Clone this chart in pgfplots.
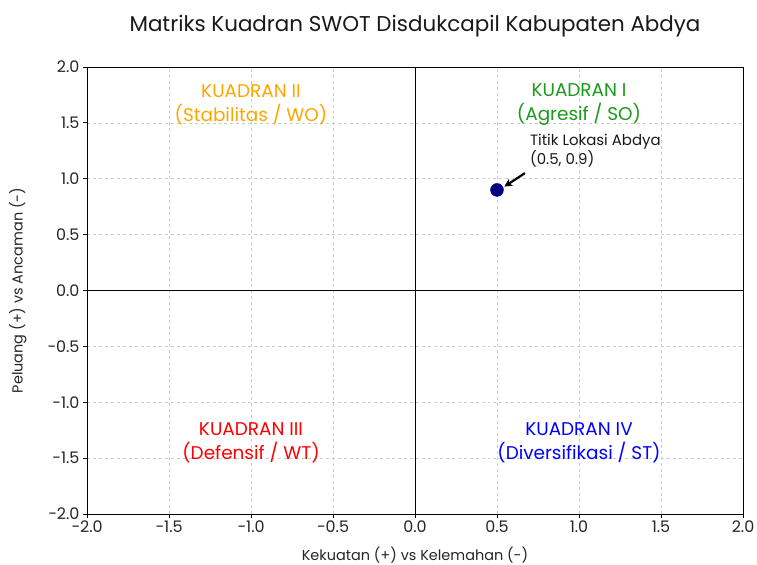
\documentclass[border=0pt]{standalone}
\usepackage{fontspec}
\setmainfont{Poppins}
\usepackage{pgfplots}
\pgfplotsset{compat=1.18}
\usetikzlibrary{arrows.meta}
\definecolor{qgreen}{HTML}{1A9A1A}
\definecolor{qorange}{HTML}{FFA500}
\definecolor{qred}{HTML}{FF0000}
\definecolor{qblue}{HTML}{0000FF}
\definecolor{navy}{HTML}{000080}
\begin{document}
\begin{tikzpicture}[x=1bp,y=1bp]
\path[use as bounding box] (0,0) rectangle (757,565);
\begin{axis}[
  at={(87bp,51bp)}, anchor=south west,
  scale only axis, width=656bp, height=447bp,
  xmin=-2, xmax=2, ymin=-2, ymax=2,
  xtick={-2,-1.5,...,2}, ytick={-2,-1.5,...,2},
  xticklabels={−2.0,−1.5,−1.0,−0.5,0.0,0.5,1.0,1.5,2.0},
  yticklabels={−2.0,−1.5,−1.0,−0.5,0.0,0.5,1.0,1.5,2.0},
  tick label style={font=\fontsize{16}{18}\selectfont, text=black!85},
  xticklabel style={yshift=1bp},
  tick align=outside, major tick length=4bp,
  xtick pos=bottom, ytick pos=left,
  tick style={black, line width=0.8bp},
  axis line style={black, line width=0.8bp},
  grid=major, grid style={dashed, gray!40, line width=0.7bp},
  xlabel={Kekuatan (+) vs Kelemahan (-)},
  ylabel={Peluang (+) vs Ancaman (-)},
  label style={font=\fontsize{14.5}{16}\selectfont, text=black!85},
  xlabel style={yshift=-8bp},
  ylabel style={yshift=14bp},
  title={Matriks Kuadran SWOT Disdukcapil Kabupaten Abdya},
  title style={font=\fontsize{21.5}{24}\selectfont, text=black!90, yshift=20bp},
  clip=false,
]
\addplot[black, line width=1bp, forget plot] coordinates {(-2,0) (2,0)};
\addplot[black, line width=1bp, forget plot] coordinates {(0,-2) (0,2)};
\addplot[only marks, mark=*, mark size=6.5bp, mark options={fill=navy, draw=navy}] coordinates {(0.5,0.9)};
\node[align=center, text=qgreen, font=\fontsize{18.5}{24}\selectfont] at (axis cs:1,1.66) {KUADRAN I\\(Agresif / SO)};
\node[align=center, text=qorange, font=\fontsize{18.5}{24}\selectfont] at (axis cs:-1,1.66) {KUADRAN II\\(Stabilitas / WO)};
\node[align=center, text=qred, font=\fontsize{18.5}{24}\selectfont] at (axis cs:-1,-1.36) {KUADRAN III\\(Defensif / WT)};
\node[align=center, text=qblue, font=\fontsize{18.5}{24}\selectfont] at (axis cs:1,-1.36) {KUADRAN IV\\(Diversifikasi / ST)};
\node[align=left, anchor=south west, inner sep=0pt, text=black!90, font=\fontsize{15}{15}\selectfont] at (axis cs:0.7,1.1) {Titik Lokasi Abdya\\(0.5, 0.9)};
\draw[black, line width=2.2bp, -{Stealth[length=8bp,width=8bp]}] (axis cs:0.67,1.05) -- (axis cs:0.545,0.93);
\end{axis}
\end{tikzpicture}
\end{document}
